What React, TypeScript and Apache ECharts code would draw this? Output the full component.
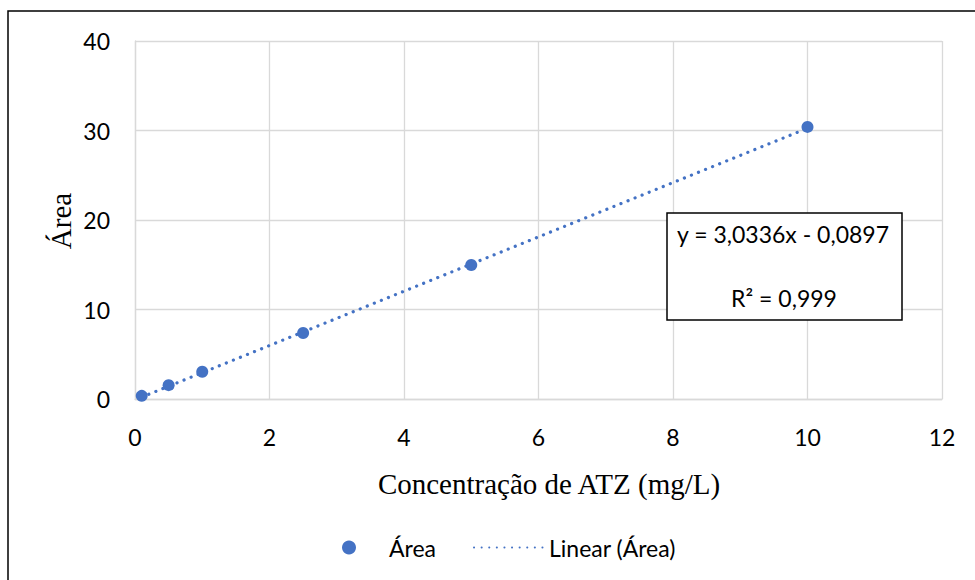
import React, { useEffect, useRef } from "react";
import * as echarts from "echarts";

const concentrations = [0.1, 0.5, 1, 2.5, 5, 10];
const areas = [0.35, 1.55, 3.05, 7.37, 14.97, 30.4];
const trendX = [0.1, 10];
const trendY = [0.21, 30.25];
const equationText = "y = 3,0336x - 0,0897";
const r2Text = "R² = 0,999";
const xTitle = "Concentração de ATZ (mg/L)";
const yTitle = "Área";
const seriesName = "Área";
const trendName = "Linear (Área)";

const BLUE = "#4472C4";
const GRID = "#d9d9d9";
const SANS = "Lato, 'Noto Sans', sans-serif";
const SERIF = "'Liberation Serif', 'DejaVu Serif', serif";
const FS = 23;

export default function App() {
  const ref = useRef<HTMLDivElement>(null);
  useEffect(() => {
    if (!ref.current) return;
    const chart = echarts.init(ref.current, undefined, { renderer: "svg" });
    chart.setOption({
      animation: false,
      backgroundColor: "#fff",
      grid: { left: 135, right: 33, top: 41, bottom: 181 },
      xAxis: {
        type: "value",
        min: 0,
        max: 12,
        interval: 2,
        axisLine: { show: true, onZero: false, lineStyle: { color: GRID, width: 1.3 } },
        axisTick: { show: false },
        axisLabel: { color: "#000", fontFamily: SANS, fontSize: FS, margin: 26 },
        splitLine: { show: true, lineStyle: { color: GRID, width: 1.3 } },
      },
      yAxis: {
        type: "value",
        min: 0,
        max: 40,
        interval: 10,
        axisLine: { show: true, lineStyle: { color: GRID, width: 1.3 } },
        axisTick: { show: false },
        axisLabel: { color: "#000", fontFamily: SANS, fontSize: FS, margin: 25 },
        splitLine: { show: true, lineStyle: { color: GRID, width: 1.3 } },
      },
      legend: [
        {
          data: [{ name: seriesName, icon: "circle" }],
          left: 337,
          top: 531,
          itemWidth: 14,
          itemHeight: 14,
          itemStyle: { opacity: 1 },
          textStyle: { color: "#000", fontFamily: SANS, fontSize: FS, padding: [0, 0, 0, 28] },
        },
        {
          data: [{ name: trendName }],
          left: 468,
          top: 531,
          itemWidth: 70,
          itemHeight: 14,
          itemStyle: { opacity: 0 },
          textStyle: { color: "#000", fontFamily: SANS, fontSize: FS },
        },
      ],
      series: [
        {
          name: trendName,
          type: "line",
          data: trendX.map((x, i) => [x, trendY[i]]),
          showSymbol: false,
          symbol: "none",
          lineStyle: { color: BLUE, width: 3.2, type: [0.1, 7.5], cap: "round" },
          itemStyle: { color: BLUE },
          z: 1,
        },
        {
          name: seriesName,
          type: "scatter",
          data: concentrations.map((x, i) => [x, areas[i]]),
          symbol: "circle",
          symbolSize: 12,
          itemStyle: { color: BLUE, opacity: 1 },
          z: 3,
        },
      ],
      graphic: [
        {
          type: "rect",
          shape: { x: 8, y: 11, width: 1000, height: 1000 },
          style: { fill: "none", stroke: "#000", lineWidth: 1.5 },
          silent: true,
          z: 100,
        },
        {
          type: "rect",
          shape: { x: 667, y: 213, width: 235, height: 107 },
          style: { fill: "#fff", stroke: "#000", lineWidth: 1.5 },
          z: 50,
        },
        {
          type: "text",
          x: 783,
          y: 234,
          style: {
            text: equationText,
            fill: "#000",
            font: `${FS}px ${SANS}`,
            textAlign: "center",
            textVerticalAlign: "middle",
          },
          z: 51,
        },
        {
          type: "text",
          x: 784,
          y: 298,
          style: {
            text: r2Text,
            fill: "#000",
            font: `${FS}px ${SANS}`,
            textAlign: "center",
            textVerticalAlign: "middle",
          },
          z: 51,
        },
        {
          type: "text",
          x: 549,
          y: 484,
          style: {
            text: xTitle,
            fill: "#000",
            font: `29px ${SERIF}`,
            textAlign: "center",
            textVerticalAlign: "middle",
          },
        },
        {
          type: "text",
          x: 61,
          y: 221,
          rotation: Math.PI / 2,
          style: {
            text: yTitle,
            fill: "#000",
            font: `29px ${SERIF}`,
            textAlign: "center",
            textVerticalAlign: "middle",
          },
        },
      ],
    });
    return () => chart.dispose();
  }, []);
  return (
    <div style={{ position: "absolute", left: 0, top: 0, width: 975, height: 580, overflow: "hidden" }}>
      <div ref={ref} style={{ width: 975, height: 580 }} />
    </div>
  );
}
